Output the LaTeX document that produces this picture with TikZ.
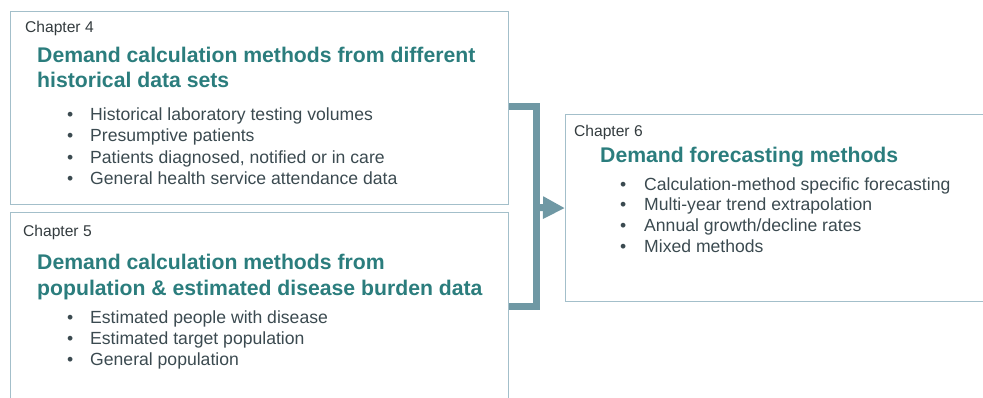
\documentclass[tikz,border=0pt]{standalone}
\usepackage{fontspec}
\setmainfont{Liberation Sans}
\usetikzlibrary{arrows.meta}

\definecolor{boxline}{HTML}{A3BFCA}
\definecolor{linkblue}{HTML}{6F98A4}
\definecolor{headteal}{HTML}{2B7D7D}
\definecolor{bodygrey}{HTML}{3B4A50}
\definecolor{labgrey}{HTML}{333B3E}

\begin{document}
\begin{tikzpicture}
  [x=1pt,y=-1pt,
   every node/.style={inner sep=0pt,anchor=base west},
   chapbox/.style={draw=boxline,line width=1.2pt,anchor=north west},
   chaplabel/.style={font=\fontsize{15.6}{18}\selectfont,text=labgrey},
   heading/.style={font=\fontsize{21.2}{25}\selectfont\bfseries,text=headteal},
   item/.style={font=\fontsize{17.6}{21}\selectfont,text=bodygrey},
   link/.style={draw=linkblue,line width=7pt,line join=miter}]
  \useasboundingbox (0,0) rectangle (983,397);

  % the three chapter boxes
  \node[chapbox,minimum width=498pt,minimum height=193pt] (c4) at (10,11) {};
  \node[chapbox,minimum width=498pt,minimum height=194pt] (c5) at (10,212) {};
  \node[chapbox,minimum width=430pt,minimum height=187pt] (c6) at (565,114) {};

  % chapter 4
  \node[chaplabel] (c4lab) at (25,32) {Chapter 4};
  \node[heading] (c4h1) at (37,62) {Demand calculation methods from different};
  \node[heading] (c4h2) at (37,87) {historical data sets};
  \foreach \y/\txt in {120/Historical laboratory testing volumes,
                       141/Presumptive patients,
                       163/{Patients diagnosed, notified or in care},
                       184/General health service attendance data}
  {
    \node[item] (d4-\y) at (67,\y) {•};
    \node[item] (t4-\y) at (90,\y) {\txt};
  }

  % chapter 5
  \node[chaplabel] (c5lab) at (23,236) {Chapter 5};
  \node[heading] (c5h1) at (37,269) {Demand calculation methods from};
  \node[heading] (c5h2) at (37,295) {population \& estimated disease burden data};
  \foreach \y/\txt in {323/Estimated people with disease,
                       344/Estimated target population,
                       365/General population}
  {
    \node[item] (d5-\y) at (67,\y) {•};
    \node[item] (t5-\y) at (90,\y) {\txt};
  }

  % chapter 6
  \node[chaplabel] (c6lab) at (574,136) {Chapter 6};
  \node[heading] (c6h1) at (600,162) {Demand forecasting methods};
  \foreach \y/\txt in {190/Calculation-method specific forecasting,
                       210/Multi-year trend extrapolation,
                       231/{Annual growth/decline rates},
                       252/Mixed methods}
  {
    \node[item] (d6-\y) at (620,\y) {•};
    \node[item] (t6-\y) at (644,\y) {\txt};
  }

  % bracket joining 4 and 5, then into 6
  \coordinate (j4) at (536,106);
  \coordinate (j5) at (536,306);
  \coordinate (jm) at (536,207.5);
  \draw[link] (c4.east |- j4) -- (j4) -- (j5) -- (c5.east |- j5);
  \draw[link,-{Triangle[length=22pt,width=21pt]}] (jm) -- (c6.west);

\end{tikzpicture}
\end{document}
